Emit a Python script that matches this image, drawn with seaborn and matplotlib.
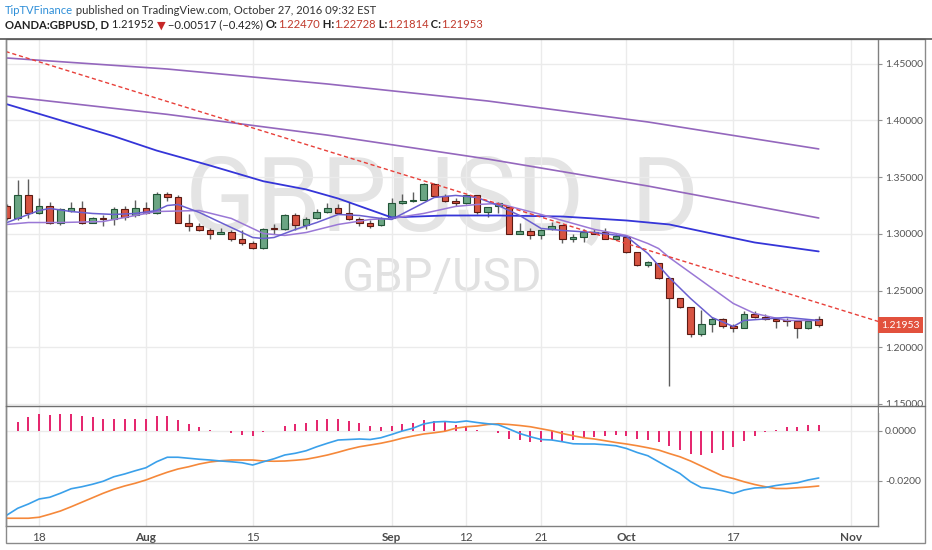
import matplotlib
matplotlib.use("Agg")
import matplotlib.pyplot as plt
import numpy as np
import pandas as pd
import seaborn as sns
from matplotlib.patches import Rectangle
from matplotlib.lines import Line2D

# daily GBPUSD candles, 13 Jul .. 27 Oct 2016
opens = [1.3242, 1.3136, 1.3339, 1.3180, 1.3250, 1.3100, 1.3206, 1.3224, 1.3100, 1.3136,
         1.3127, 1.3215, 1.3162, 1.3224, 1.3180, 1.3356, 1.3321, 1.3100, 1.3065, 1.3030,
         1.3003, 1.3012, 1.2951, 1.2915, 1.2871, 1.3048, 1.3039, 1.3162, 1.3074, 1.3136,
         1.3189, 1.3224, 1.3180, 1.3127, 1.3100, 1.3074, 1.3136, 1.3268, 1.3286, 1.3303,
         1.3444, 1.3330, 1.3286, 1.3268, 1.3339, 1.3189, 1.3250, 1.3233, 1.3003, 1.3021,
         1.2986, 1.3039, 1.3074, 1.2959, 1.2968, 1.3012, 1.3012, 1.2959, 1.2968, 1.2836,
         1.2721, 1.2739, 1.2607, 1.2430, 1.2351, 1.2113, 1.2201, 1.2245, 1.2183, 1.2174,
         1.2289, 1.2271, 1.2245, 1.2236, 1.2227, 1.2174, 1.22470]
highs = [1.3259, 1.3471, 1.3480, 1.3312, 1.3277, 1.3224, 1.3277, 1.3286, 1.3153, 1.3162,
         1.3233, 1.3250, 1.3303, 1.3277, 1.3365, 1.3365, 1.3347, 1.3171, 1.3092, 1.3056,
         1.3048, 1.3030, 1.3030, 1.2933, 1.3048, 1.3083, 1.3171, 1.3180, 1.3145, 1.3215,
         1.3268, 1.3259, 1.3277, 1.3145, 1.3118, 1.3145, 1.3312, 1.3356, 1.3365, 1.3448,
         1.3448, 1.3356, 1.3312, 1.3347, 1.3347, 1.3237, 1.3277, 1.3250, 1.3092, 1.3056,
         1.3039, 1.3109, 1.3078, 1.2995, 1.3039, 1.3039, 1.3048, 1.3003, 1.2986, 1.2840,
         1.2765, 1.2743, 1.2611, 1.2434, 1.2355, 1.2324, 1.2263, 1.2254, 1.2201, 1.2316,
         1.2316, 1.2289, 1.2254, 1.2254, 1.2236, 1.2245, 1.22728]
lows = [1.3118, 1.3118, 1.3136, 1.3175, 1.3083, 1.3074, 1.3189, 1.3083, 1.3092, 1.3065,
        1.3074, 1.3118, 1.3145, 1.3171, 1.3171, 1.3286, 1.3092, 1.3021, 1.3021, 1.2959,
        1.2995, 1.2933, 1.2906, 1.2865, 1.2865, 1.3003, 1.3035, 1.3030, 1.3039, 1.3132,
        1.3180, 1.3175, 1.3118, 1.3065, 1.3056, 1.3070, 1.3127, 1.3264, 1.3282, 1.3300,
        1.3326, 1.3282, 1.3250, 1.3264, 1.3171, 1.3145, 1.3180, 1.2999, 1.2999, 1.2951,
        1.2951, 1.3035, 1.2915, 1.2924, 1.2924, 1.2995, 1.2955, 1.2942, 1.2827, 1.2717,
        1.2704, 1.2603, 1.1654, 1.2347, 1.2086, 1.2095, 1.2130, 1.2174, 1.2130, 1.2170,
        1.2254, 1.2236, 1.2174, 1.2183, 1.2077, 1.2157, 1.21814]
closes = [1.3136, 1.3339, 1.3180, 1.3250, 1.3100, 1.3215, 1.3224, 1.3100, 1.3136, 1.3127,
          1.3215, 1.3153, 1.3224, 1.3180, 1.3356, 1.3321, 1.3100, 1.3065, 1.3030, 1.3003,
          1.3012, 1.2951, 1.2915, 1.2871, 1.3039, 1.3039, 1.3162, 1.3074, 1.3127, 1.3189,
          1.3224, 1.3180, 1.3127, 1.3100, 1.3065, 1.3136, 1.3268, 1.3286, 1.3303, 1.3444,
          1.3330, 1.3286, 1.3268, 1.3339, 1.3189, 1.3233, 1.3268, 1.3003, 1.3021, 1.2986,
          1.3030, 1.3065, 1.2959, 1.2968, 1.3012, 1.3003, 1.2959, 1.2977, 1.2836, 1.2721,
          1.2748, 1.2607, 1.2430, 1.2351, 1.2121, 1.2201, 1.2245, 1.2183, 1.2174, 1.2289,
          1.2271, 1.2245, 1.2227, 1.2227, 1.2174, 1.2227, 1.21953]

# moving averages, read at sample bars (bar index, price)
fast_i = [0, 1, 3, 4, 6, 8, 10, 12, 14, 15, 16, 18, 20, 22, 23, 24, 25, 27, 29, 31, 33,
          35, 36, 38, 40, 42, 44, 46, 48, 50, 52, 55, 58, 60, 61, 62, 64, 66, 68, 69, 73, 76]
fast_v = [1.3100, 1.3136, 1.3206, 1.3224, 1.3197, 1.3180, 1.3171, 1.3180, 1.3206, 1.3250,
          1.3259, 1.3189, 1.3100, 1.3012, 1.2968, 1.2959, 1.2968, 1.3039, 1.3100, 1.3171,
          1.3162, 1.3136, 1.3127, 1.3224, 1.3321, 1.3339, 1.3321, 1.3250, 1.3162, 1.3048,
          1.3030, 1.3012, 1.2977, 1.2827, 1.2721, 1.2615, 1.2430, 1.2263, 1.2183, 1.2236,
          1.2263, 1.2236]
slow_i = [0, 2, 5, 9, 12, 14, 18, 21, 24, 26, 28, 31, 34, 36, 39, 42, 44, 46, 50, 55,
          58, 60, 61, 62, 65, 68, 70, 73, 76]
slow_v = [1.3083, 1.3100, 1.3100, 1.3109, 1.3162, 1.3197, 1.3206, 1.3136, 1.3003, 1.2986,
          1.3012, 1.3083, 1.3127, 1.3136, 1.3180, 1.3242, 1.3259, 1.3268, 1.3171, 1.3039,
          1.2986, 1.2915, 1.2871, 1.2792, 1.2589, 1.2386, 1.2298, 1.2236, 1.2236]
ma50_i = [0, 5, 10, 14, 19, 24, 28, 31, 36, 41, 46, 52, 58, 62, 66, 70, 76]
ma50_v = [1.4143, 1.4002, 1.3861, 1.3735, 1.3603, 1.3464, 1.3392, 1.3312, 1.3145, 1.3162,
          1.3162, 1.3153, 1.3118, 1.3083, 1.3003, 1.2924, 1.2845]
ma100_i = [0, 15, 30, 45, 60, 76]
ma100_v = [1.4213, 1.4054, 1.3871, 1.3660, 1.3422, 1.3140]
ma200_i = [0, 15, 30, 45, 60, 76]
ma200_v = [1.4551, 1.4454, 1.4322, 1.4172, 1.3987, 1.3749]
trend_i = [-1, 82]
trend_v = [1.4634, 1.2215]

# MACD panel
macd = [-0.0337, -0.0310, -0.0293, -0.0273, -0.0266, -0.0250, -0.0232, -0.0224, -0.0214, -0.0202,
        -0.0184, -0.0173, -0.0160, -0.0148, -0.0124, -0.0106, -0.0106, -0.0110, -0.0114, -0.0117,
        -0.0121, -0.0124, -0.0128, -0.0137, -0.0124, -0.0112, -0.0097, -0.0090, -0.0080, -0.0064,
        -0.0050, -0.0037, -0.0035, -0.0033, -0.0035, -0.0028, -0.0015, -0.0001, 0.0010, 0.0027,
        0.0035, 0.0037, 0.0034, 0.0039, 0.0033, 0.0028, 0.0024, 0.0007, -0.0011, -0.0024,
        -0.0035, -0.0037, -0.0044, -0.0052, -0.0053, -0.0053, -0.0056, -0.0060, -0.0071, -0.0087,
        -0.0100, -0.0124, -0.0148, -0.0171, -0.0204, -0.0227, -0.0232, -0.0240, -0.0251, -0.0237,
        -0.0229, -0.0227, -0.0219, -0.0213, -0.0208, -0.0197, -0.0189]
signal = [-0.0350, -0.0350, -0.0350, -0.0346, -0.0334, -0.0321, -0.0304, -0.0286, -0.0268, -0.0250,
          -0.0234, -0.0221, -0.0210, -0.0197, -0.0181, -0.0166, -0.0153, -0.0144, -0.0133, -0.0125,
          -0.0120, -0.0117, -0.0117, -0.0117, -0.0121, -0.0122, -0.0121, -0.0118, -0.0114, -0.0106,
          -0.0097, -0.0086, -0.0074, -0.0064, -0.0057, -0.0050, -0.0041, -0.0030, -0.0021, -0.0013,
          -0.0008, -0.0002, 0.0010, 0.0016, 0.0019, 0.0025, 0.0028, 0.0025, 0.0021, 0.0016,
          0.0008, 0.0000, -0.0011, -0.0020, -0.0028, -0.0033, -0.0040, -0.0047, -0.0053, -0.0060,
          -0.0068, -0.0077, -0.0091, -0.0104, -0.0121, -0.0141, -0.0161, -0.0181, -0.0191, -0.0204,
          -0.0215, -0.0224, -0.0231, -0.0231, -0.0228, -0.0225, -0.0221]
hist = [np.nan, 0.0034, 0.0054, 0.0067, 0.0063, 0.0067, 0.0067, 0.0059, 0.0054, 0.0047,
        0.0049, 0.0049, 0.0049, 0.0049, 0.0059, 0.0061, 0.0045, 0.0029, 0.0016, 0.0005,
        0.0000, -0.0007, -0.0015, -0.0020, -0.0004, 0.0001, 0.0019, 0.0027, 0.0033, 0.0043,
        0.0049, 0.0049, 0.0039, 0.0032, 0.0021, 0.0016, 0.0020, 0.0027, 0.0032, 0.0043,
        0.0039, 0.0040, 0.0023, 0.0020, 0.0005, 0.0000, -0.0007, -0.0031, -0.0037, -0.0044,
        -0.0044, -0.0037, -0.0041, -0.0037, -0.0028, -0.0024, -0.0019, -0.0015, -0.0020, -0.0033,
        -0.0037, -0.0045, -0.0061, -0.0075, -0.0093, -0.0097, -0.0087, -0.0077, -0.0064, -0.0040,
        -0.0020, -0.0004, 0.0005, 0.0016, 0.0016, 0.0024, 0.0024]

tick_dates = ["2016-07-18", "2016-08-01", "2016-08-15", "2016-09-01", "2016-09-12",
              "2016-09-21", "2016-10-03", "2016-10-17", "2016-11-01"]
tick_labels = ["18", "Aug", "15", "Sep", "12", "21", "Oct", "17", "Nov"]
price_ticks = [1.15, 1.20, 1.25, 1.30, 1.35, 1.40, 1.45]

sns.set_style("white")
plt.rcParams['font.family'] = ['Lato', 'DejaVu Sans']

W, H = 932, 550
fig = plt.figure(figsize=(W / 100, H / 100), dpi=100)
fig.patch.set_facecolor("white")


def fx(px):
    return px / W


def fy(py):
    return 1 - py / H


ax = fig.add_axes([fx(6), fy(405.5), fx(878) - fx(6), fy(40) - fy(405.5)])
ax2 = fig.add_axes([fx(6), fy(526), fx(878) - fx(6), fy(405.5) - fy(526)], sharex=ax)

all_days = pd.bdate_range("2016-07-13", "2016-11-01")
o = np.array(opens)
h = np.array(highs)
l = np.array(lows)
c = np.array(closes)
idx = np.arange(len(c))
up = c >= o

# watermark
ax.text(0.5, 0.557, "GBPUSD, D", transform=ax.transAxes, ha="center", va="center",
        fontsize=75, color="#e4e4e4", family="Roboto", zorder=0)
ax.text(0.499, 0.35, "GBP/USD", transform=ax.transAxes, ha="center", va="center",
        fontsize=34, color="#e1e1e1", family="Roboto", zorder=0)

# candles
ax.vlines(idx, l, h, color="#5e5e5e", lw=1, zorder=3)
body_lo = np.minimum(o, c)
body_h = np.maximum(np.abs(c - o), 0.0003)
ax.bar(idx[up], body_h[up], bottom=body_lo[up], width=0.62, color="#6ba583",
       edgecolor="#225437", linewidth=0.8, zorder=4)
ax.bar(idx[~up], body_h[~up], bottom=body_lo[~up], width=0.62, color="#d75442",
       edgecolor="#5b1a13", linewidth=0.8, zorder=4)

# averages
sns.lineplot(x=ma200_i, y=ma200_v, ax=ax, color="#9467bd", lw=1.2, zorder=5)
sns.lineplot(x=ma100_i, y=ma100_v, ax=ax, color="#9467bd", lw=1.2, zorder=5)
sns.lineplot(x=ma50_i, y=ma50_v, ax=ax, color="#3535d8", lw=1.3, zorder=5)
sns.lineplot(x=slow_i, y=slow_v, ax=ax, color="#9a78d6", lw=1.1, zorder=5)
sns.lineplot(x=fast_i, y=fast_v, ax=ax, color="#6a5fd0", lw=1.1, zorder=5)
ax.plot(trend_i, trend_v, color="#e8403a", lw=1, ls=(0, (3, 2)), zorder=6)

ax.set_xlim(-0.1, 81.55)
ax.set_ylim(1.1486, 1.4710)

# MACD
hv = np.array(hist)
m = ~np.isnan(hv)
ax2.vlines(idx[m], 0, hv[m], color="#e5236b", lw=1.4, zorder=3)
sns.lineplot(x=idx, y=signal, ax=ax2, color="#f5883a", lw=1.2, zorder=4)
sns.lineplot(x=idx, y=macd, ax=ax2, color="#3aa0ea", lw=1.2, zorder=5)
ax2.set_ylim(-0.0381, 0.0101)

# axes styling
tick_pos = [all_days.get_loc(pd.Timestamp(d)) for d in tick_dates]
for a in (ax, ax2):
    a.set_xticks(tick_pos)
    a.grid(True, color="#ebebeb", lw=1)
    a.set_axisbelow(True)
    a.yaxis.tick_right()
    a.set_xlabel("")
    a.set_ylabel("")
    for s in a.spines.values():
        s.set_color("#808080")
        s.set_linewidth(1)
    a.spines["top"].set_visible(False)
    a.tick_params(axis="y", direction="out", length=3, color="#909090",
                  labelcolor="#555555", labelsize=7.5, pad=2)

ax.tick_params(axis="x", labelbottom=False, bottom=False)
ax.spines["bottom"].set_visible(False)
ax.set_yticks(price_ticks)
ax.set_yticklabels([f"{v:.5f}" for v in price_ticks])

ax2.set_yticks([0.0, -0.02])
ax2.set_yticklabels(["0.0000", "-0.0200"])
ax2.set_xticklabels(tick_labels)
ax2.tick_params(axis="x", length=0, pad=4, labelsize=8.5, labelcolor="#4a4a4a")
for lbl in ax2.get_xticklabels():
    if lbl.get_text() in ("Aug", "Sep", "Oct", "Nov"):
        lbl.set_fontweight("bold")

# last price marker
ax.annotate(f"{closes[-1]:.5f}", xy=(1, closes[-1]), xycoords=("axes fraction", "data"),
            xytext=(2.5, 0), textcoords="offset points", ha="left", va="center",
            color="white", fontsize=7.5, zorder=10, annotation_clip=False,
            bbox=dict(boxstyle="square,pad=0.3", fc="#e2513d", ec="none"))

# the lowest price label is half hidden under the lower pane
fig.add_artist(Rectangle((fx(879), fy(413)), fx(924) - fx(879), fy(405.5) - fy(413),
                         transform=fig.transFigure, fc="white", ec="none", zorder=20))

# frame and separators
fig.add_artist(Rectangle((fx(6), fy(543)), fx(925) - fx(6), fy(39) - fy(543),
                         transform=fig.transFigure, fill=False, ec="#8a8a8a", lw=1, zorder=21))
fig.add_artist(Line2D([0, 1], [fy(39), fy(39)], transform=fig.transFigure,
                      color="#555555", lw=1.2, zorder=22))
fig.add_artist(Line2D([fx(6), fx(925)], [fy(405.5), fy(405.5)], transform=fig.transFigure,
                      color="#707070", lw=1, zorder=22))

# header
renderer = fig.canvas.get_renderer()


def write_parts(x_px, y_px, parts, size):
    x = x_px
    for s, color, weight in parts:
        t = fig.text(x / W, fy(y_px), s, color=color, fontweight=weight,
                     fontsize=size, ha="left", va="center")
        x = t.get_window_extent(renderer).x1
    return x


red = "#c0392b"
write_parts(5, 10, [("TipTVFinance", "#2f8fd8", "normal"),
                    (" published on TradingView.com, October 27, 2016 09:32 EST", "#333333", "normal")], 8.1)
write_parts(5, 25, [("OANDA:GBPUSD, D", "#222222", "bold"),
                    (" 1.21952 ", "#222222", "normal"),
                    ("\u25bc", "#c62828", "normal"),
                    (" \u22120.00517 (\u22120.42%) ", "#222222", "normal"),
                    ("O:", "#222222", "bold"), ("1.22470", red, "normal"),
                    (" H:", "#222222", "bold"), ("1.22728", red, "normal"),
                    (" L:", "#222222", "bold"), ("1.21814", red, "normal"),
                    (" C:", "#222222", "bold"), ("1.21953", red, "normal")], 8.1)

fig.savefig("out.png", dpi=100)
